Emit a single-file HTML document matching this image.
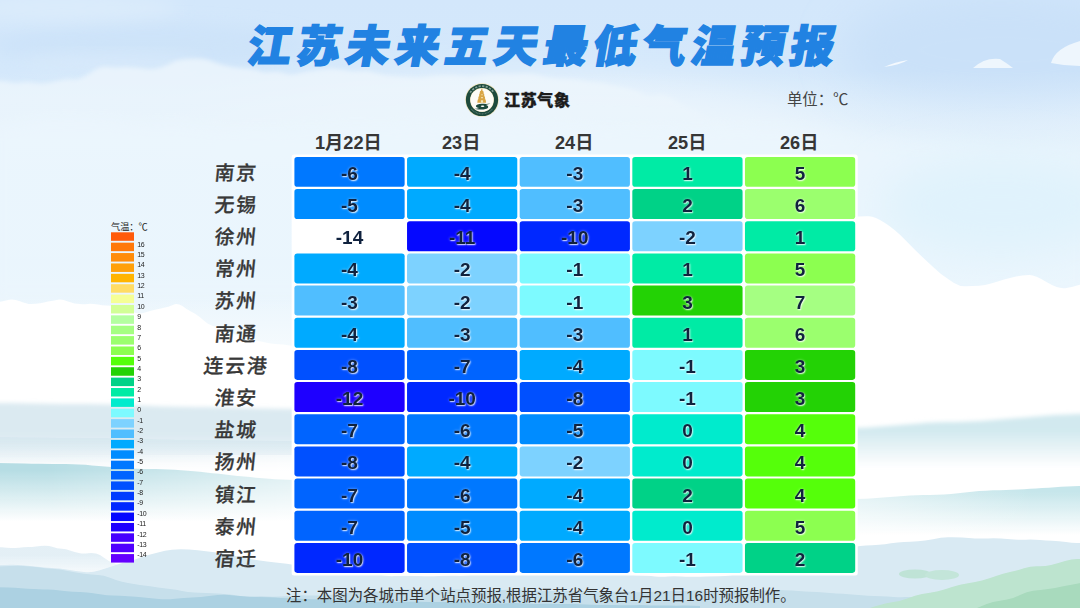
<!DOCTYPE html>
<html lang="zh-CN"><head><meta charset="utf-8"><title>江苏未来五天最低气温预报</title>
<style>
html,body{margin:0;padding:0}
body{width:1080px;height:608px;overflow:hidden;position:relative;background:#fff;font-family:"Liberation Sans",sans-serif}
#bg{position:absolute;left:0;top:0}
.t{position:absolute;overflow:visible}
.t text{font-family:"Liberation Sans","Noto Sans CJK SC",sans-serif}
#tbl{position:absolute;left:291px;top:154px;width:568px;height:423px}
.c{position:absolute;opacity:.999;width:110.24px;height:29.97px;text-align:center;font-weight:bold;font-size:19px;line-height:34.2px;color:#10223e;text-shadow:.8px .8px 1.4px rgba(255,255,255,.85),0 0 3px rgba(255,255,255,.45)}
#lg{position:absolute;left:111px;top:232px;width:60px;height:332px}
#lg b{opacity:.999;position:absolute;left:26.3px;font-weight:normal;font-size:7px;line-height:8.6px;color:#222;letter-spacing:-0.35px}
#logo{position:absolute;left:465px;top:83.2px}
</style></head><body>
<svg id="bg" width="1080" height="608" viewBox="0 0 1080 608">
<defs>
<linearGradient id="sky" x1="0" y1="0" x2="0" y2="1">
<stop offset="0" stop-color="#d3e7fb"/><stop offset="0.12" stop-color="#d4e8fb"/><stop offset="0.2" stop-color="#deedfb"/><stop offset="0.3" stop-color="#e6f3fc"/><stop offset="0.48" stop-color="#eaf5fc"/><stop offset="0.58" stop-color="#f6fbfe"/><stop offset="0.64" stop-color="#ffffff"/><stop offset="1" stop-color="#ffffff"/>
</linearGradient>
<filter id="b20" x="-50%" y="-50%" width="200%" height="200%"><feGaussianBlur stdDeviation="20"/></filter>
<filter id="b8" x="-50%" y="-50%" width="200%" height="200%"><feGaussianBlur stdDeviation="8"/></filter>
<filter id="b3"><feGaussianBlur stdDeviation="3"/></filter>
<filter id="b2"><feGaussianBlur stdDeviation="2"/></filter>
<filter id="b1"><feGaussianBlur stdDeviation="0.7"/></filter>
<linearGradient id="rfade" gradientUnits="userSpaceOnUse" x1="0" y1="70" x2="0" y2="310"><stop offset="0" stop-color="#e6f3fc" stop-opacity="0"/><stop offset="0.42" stop-color="#e6f3fc" stop-opacity="0.8"/><stop offset="0.8" stop-color="#e6f3fc" stop-opacity="0.8"/><stop offset="1" stop-color="#e6f3fc" stop-opacity="0"/></linearGradient>
<linearGradient id="wfade" x1="0" y1="0" x2="1" y2="0"><stop offset="0.15" stop-color="#fff" stop-opacity="0"/><stop offset="1" stop-color="#fff" stop-opacity="0.55"/></linearGradient>
<linearGradient id="wfade2" x1="0" y1="0" x2="1" y2="0"><stop offset="0" stop-color="#fff" stop-opacity="0.5"/><stop offset="0.8" stop-color="#fff" stop-opacity="0"/></linearGradient>
<linearGradient id="g0" gradientUnits="userSpaceOnUse" x1="0" y1="403" x2="0" y2="471"><stop offset="0" stop-color="#dbeaf1" stop-opacity="1"/><stop offset="0.45" stop-color="#dbeaf1" stop-opacity="1"/><stop offset="1" stop-color="#dbeaf1" stop-opacity="0"/></linearGradient><linearGradient id="g1" gradientUnits="userSpaceOnUse" x1="0" y1="437" x2="0" y2="463"><stop offset="0" stop-color="#d3e6ee" stop-opacity="0.6"/><stop offset="0.1" stop-color="#d3e6ee" stop-opacity="0.6"/><stop offset="1" stop-color="#d3e6ee" stop-opacity="0"/></linearGradient><linearGradient id="g2" gradientUnits="userSpaceOnUse" x1="0" y1="463" x2="0" y2="522"><stop offset="0" stop-color="#b6dde4" stop-opacity="1"/><stop offset="0.12" stop-color="#b6dde4" stop-opacity="1"/><stop offset="1" stop-color="#b6dde4" stop-opacity="0"/></linearGradient><linearGradient id="g3" gradientUnits="userSpaceOnUse" x1="0" y1="414" x2="0" y2="468"><stop offset="0" stop-color="#d2e9ef" stop-opacity="1"/><stop offset="0.3" stop-color="#d2e9ef" stop-opacity="1"/><stop offset="1" stop-color="#d2e9ef" stop-opacity="0"/></linearGradient><linearGradient id="g4" gradientUnits="userSpaceOnUse" x1="0" y1="486" x2="0" y2="535"><stop offset="0" stop-color="#c6e6eb" stop-opacity="1"/><stop offset="0.12" stop-color="#c6e6eb" stop-opacity="1"/><stop offset="1" stop-color="#c6e6eb" stop-opacity="0"/></linearGradient><linearGradient id="g5" gradientUnits="userSpaceOnUse" x1="0" y1="544" x2="0" y2="582"><stop offset="0" stop-color="#e1eef5" stop-opacity="0.9"/><stop offset="0.3" stop-color="#e1eef5" stop-opacity="0.9"/><stop offset="1" stop-color="#e1eef5" stop-opacity="0"/></linearGradient>
</defs>
<rect width="1080" height="608" fill="url(#sky)"/>
<ellipse cx="520" cy="150" rx="330" ry="70" fill="#eef6fd" fill-opacity="0.9" filter="url(#b20)"/>
<ellipse cx="1000" cy="50" rx="160" ry="60" fill="#c6def8" fill-opacity="0.7" filter="url(#b20)"/>
<ellipse cx="150" cy="45" rx="160" ry="22" fill="#c9e1f9" fill-opacity="0.6" filter="url(#b8)"/>
<ellipse cx="60" cy="8" rx="120" ry="14" fill="#e0effc" fill-opacity="0.6" filter="url(#b8)"/>
<ellipse cx="110" cy="62" rx="90" ry="8" fill="#deedfb" fill-opacity="0.6" filter="url(#b8)"/>
<path d="M-10,260L-10,81.1Q2,80.5 9,82.2Q15,83.8 21,82.7Q28,81.6 34,82.9Q40,84.2 47,83.3Q53,82.3 60,80.6Q67,78.8 73,79.4Q80,80.0 90,72.9Q100,65.7 106,66.8Q112,68.0 119,67.4Q125,66.8 131,67.3Q138,67.7 144,68.6Q150,69.6 156,68.6Q162,67.6 169,63.9Q175,60.1 182,59.4Q190,58.6 198,58.6Q205,58.6 214,61.9Q222,65.2 231,66.8Q240,68.4 246,68.4Q252,68.4 259,70.9Q265,73.4 271,72.1Q278,70.9 284,73.3Q290,75.8 296,74.1Q302,72.4 309,71.3Q315,70.2 321,69.4Q328,68.7 334,68.9Q340,69.0 347,70.6Q353,72.1 360,71.3Q367,70.4 373,72.4Q380,74.4 387,75.6Q393,76.7 400,76.8Q407,76.8 413,77.5Q420,78.2 426,77.0Q432,75.7 439,75.4Q445,75.2 451,75.3Q458,75.3 464,76.1Q470,76.9 476,75.9Q482,74.9 489,74.3Q495,73.7 501,74.1Q508,74.6 514,74.2Q520,73.8 527,73.7Q533,73.5 540,75.5Q547,77.5 553,78.2Q560,79.0 567,78.9Q573,78.7 580,80.3Q587,81.8 593,82.0Q600,82.1 606,83.7Q612,85.2 618,86.6Q624,88.0 630,89.0Q636,90.1 642,93.6Q648,97.1 654,95.6Q660,94.1 666,96.1Q672,98.1 678,102.2Q684,106.3 690,108.8Q696,111.3 702,115.4Q708,119.5 714,119.6Q720,119.7 727,126.6Q733,133.6 740,144.6Q747,155.6 753,160.5Q760,165.4 768,190.4Q775,215.4 782,238.7L790,262.0L790,260Z" fill="#eef6fd" fill-opacity="0.8" filter="url(#b2)"/>
<rect x="0" y="60" width="1080" height="260" fill="url(#rfade)"/>
<path d="M-10,300L-10,124.3Q4,124.9 11,123.6Q18,122.3 25,120.8Q32,119.4 39,118.1Q46,116.7 53,117.0Q60,117.4 66,117.7Q73,118.0 79,117.3Q86,116.6 92,117.4Q99,118.2 105,117.4Q111,116.7 118,118.4Q124,120.1 131,120.2Q137,120.4 144,121.2Q150,122.0 156,121.8Q163,121.7 169,121.2Q176,120.6 182,121.6Q189,122.7 195,124.1Q201,125.6 208,125.1Q214,124.6 221,126.0Q227,127.5 234,127.1Q240,126.7 246,126.5Q252,126.4 258,126.1Q265,125.8 271,126.9Q277,128.1 283,126.4Q289,124.8 295,124.6Q302,124.4 308,124.2Q314,124.0 320,124.5Q326,125.0 332,123.0Q338,120.9 345,121.2Q351,121.5 357,121.4Q363,121.2 369,121.6Q375,122.0 382,121.7Q388,121.4 394,121.4Q400,121.5 406,120.3Q412,119.1 418,119.4Q424,119.7 430,119.7Q436,119.6 442,120.7Q448,121.8 454,122.1Q460,122.3 466,120.8Q472,119.3 478,119.4Q484,119.6 490,119.8Q496,120.1 502,120.2Q508,120.4 514,121.0Q520,121.7 526,122.0Q532,122.4 538,121.9Q544,121.4 550,121.0Q556,120.7 562,121.7Q568,122.6 574,122.7Q580,122.7 586,123.3Q592,123.8 598,124.7Q604,125.7 610,125.3Q616,124.9 622,124.6Q628,124.4 634,124.7Q640,125.0 646,125.2Q652,125.4 658,124.2Q664,123.0 670,124.8Q676,126.5 682,126.3Q688,126.1 694,126.3Q700,126.5 706,126.4Q712,126.3 718,125.5Q724,124.8 730,125.0Q737,125.1 743,124.7Q749,124.4 755,125.7Q761,127.0 767,126.2Q773,125.4 779,125.7Q785,126.1 791,126.8Q798,127.5 804,127.9Q810,128.2 816,129.1Q822,129.9 828,129.9Q834,129.8 840,130.3Q846,130.7 852,131.6Q858,132.5 865,133.0Q871,133.5 877,134.6Q883,135.7 889,135.7Q895,135.6 901,137.9Q907,140.2 913,140.3Q919,140.4 925,140.1Q932,139.7 938,140.5Q944,141.3 950,142.0Q956,142.8 962,143.3Q968,143.9 974,143.9Q980,143.9 986,145.8Q992,147.7 999,148.4Q1005,149.1 1011,148.4Q1017,147.8 1023,148.1Q1029,148.5 1035,147.9Q1041,147.4 1047,147.6Q1053,147.9 1060,148.5Q1066,149.1 1072,149.1Q1078,149.0 1084,149.5L1090,150.0L1090,300Z" fill="#ecf6fd" fill-opacity="0.6" filter="url(#b8)"/>
<path d="M973,68 Q985,57 1000,59 Q1008,64 1013,68Z" fill="#eef6fd"/>
<path d="M884,67 Q895,62 908,60 Q900,65 884,67Z" fill="#f4f9fe"/>
<path d="M1051,63 Q1055,48 1080,41 L1080,66 Q1065,66 1051,63Z" fill="#eef6fd"/>
<ellipse cx="1000" cy="205" rx="120" ry="50" fill="#dff2fc" fill-opacity="0.9" filter="url(#b20)"/>
<path d="M850,420L850,217.0Q862,216.0 869,216.3Q875,216.6 885,223.0Q895,229.4 905,239.7Q915,250.1 925,259.5Q935,268.9 941,274.0Q948,279.1 954,282.9Q960,286.6 966,286.3Q972,286.1 979,285.8Q985,285.4 991,283.5Q998,281.6 1004,279.6Q1010,277.6 1016,276.4Q1022,275.3 1029,274.9Q1035,274.6 1046,281.8Q1058,289.0 1065,288.2Q1072,287.3 1078,285.2L1085,283.0L1085,420Z" fill="#ffffff" fill-opacity="1" filter="url(#b1)"/>
<path d="M-10,420L-10,303.1Q2,301.8 7,300.2Q13,298.5 20,301.3Q27,304.2 31,304.1Q36,303.9 40,303.2Q44,302.5 48,301.5Q53,300.6 58,299.7Q62,298.9 68,301.4Q75,304.0 80,304.1Q84,304.2 88,303.9Q93,303.7 98,304.6Q102,305.6 106,305.6Q111,305.6 116,306.2Q121,306.8 126,309.1Q130,311.3 135,312.8Q140,314.3 145,312.6Q150,310.8 155,309.7Q160,308.6 164,307.7Q168,306.9 173,304.9Q177,302.8 182,305.8Q186,308.8 190,311.1Q195,313.5 200,317.2Q204,320.9 208,323.7Q213,326.6 218,327.3Q222,328.1 227,330.4Q232,332.7 236,334.9Q241,337.2 245,338.1Q250,339.1 254,339.9Q258,340.8 262,341.7Q267,342.7 271,343.4Q275,344.0 279,344.2Q283,344.4 288,345.2Q292,346.1 296,346.0L300,346.0L300,420Z" fill="#ffffff" fill-opacity="1" filter="url(#b1)"/>
<path d="M-10,471L-10,403.0Q3,403.0 9,403.1Q16,403.2 22,403.3Q29,403.4 35,403.5Q41,403.6 48,403.7Q54,403.8 61,403.9Q67,404.0 74,404.0Q80,404.0 86,404.0Q92,404.1 98,404.2Q104,404.3 110,404.5Q116,404.6 122,404.8Q128,405.0 134,405.3Q140,405.5 146,405.7Q152,406.0 158,406.2Q164,406.4 170,406.5Q176,406.7 182,406.8Q188,406.9 194,407.0Q200,407.0 206,407.0Q212,407.1 219,407.2Q225,407.3 231,407.5Q238,407.6 244,407.8Q250,408.0 256,408.2Q262,408.4 269,408.5Q275,408.7 281,408.8Q288,408.9 294,409.0L300,409.0L300,471Z" fill="url(#g0)" filter="url(#b2)"/>
<path d="M-10,463L-10,437.0Q2,437.0 8,437.1Q14,437.1 21,437.2Q27,437.2 33,437.3Q39,437.4 45,437.5Q51,437.6 57,437.7Q63,437.8 69,437.8Q76,437.9 82,437.9Q88,438.0 94,438.0Q100,438.0 106,438.0Q112,438.1 119,438.2Q125,438.3 131,438.5Q138,438.6 144,438.8Q150,439.0 156,439.2Q162,439.4 169,439.5Q175,439.7 181,439.8Q188,439.9 194,440.0Q200,440.0 206,440.0Q212,440.0 219,440.1Q225,440.1 231,440.2Q238,440.3 244,440.4Q250,440.5 256,440.6Q262,440.7 269,440.8Q275,440.9 281,440.9Q288,441.0 294,441.0L300,441.0L300,463Z" fill="url(#g1)" filter="url(#b1)"/>
<path d="M-10,522L-10,463.0Q4,463.1 11,463.2Q18,463.3 25,463.5Q32,463.7 39,463.8Q46,463.9 53,464.0Q60,464.0 66,464.1Q73,464.2 79,464.6Q86,464.9 92,465.4Q99,465.9 105,466.5Q111,467.1 118,467.6Q124,468.1 131,468.4Q137,468.8 144,468.9Q150,469.0 156,469.1Q162,469.2 169,469.5Q175,469.7 181,470.2Q188,470.6 194,471.2Q200,471.8 206,472.4Q212,473.1 219,473.8Q225,474.5 231,475.2Q238,475.9 244,476.6Q250,477.2 256,477.8Q262,478.4 269,478.8Q275,479.3 281,479.5Q288,479.8 294,479.9L300,480.0L300,522Z" fill="url(#g2)" filter="url(#b1)"/>
<rect x="0" y="455" width="300" height="75" fill="url(#wfade)"/>
<path d="M850,468L850,428.0Q862,427.8 869,427.4Q875,427.1 881,426.6Q888,426.1 894,425.6Q900,425.0 906,424.4Q912,423.9 919,423.4Q925,422.9 931,422.6Q938,422.2 944,422.1Q950,422.0 956,421.9Q962,421.8 968,421.6Q975,421.4 981,421.0Q987,420.6 993,420.1Q999,419.7 1005,419.1Q1011,418.6 1018,418.0Q1024,417.4 1030,416.9Q1036,416.3 1042,415.9Q1048,415.4 1054,415.0Q1060,414.6 1067,414.4Q1073,414.2 1079,414.1L1085,414.0L1085,468Z" fill="url(#g3)" filter="url(#b2)"/>
<path d="M850,535L850,499.0Q863,498.7 870,498.4Q877,498.0 883,497.5Q890,497.0 897,496.5Q903,496.0 910,495.6Q917,495.3 923,495.1Q930,495.0 937,494.8Q944,494.5 951,493.9Q958,493.3 965,492.5Q972,491.7 979,491.1Q986,490.5 993,490.2Q1000,490.0 1006,489.9Q1012,489.8 1018,489.5Q1024,489.2 1030,488.8Q1036,488.4 1042,488.0Q1049,487.6 1055,487.2Q1061,486.8 1067,486.5Q1073,486.2 1079,486.1L1085,486.0L1085,535Z" fill="url(#g4)" filter="url(#b1)"/>
<rect x="850" y="480" width="230" height="60" fill="url(#wfade2)"/>
<path d="M-10,582L-10,548.9Q-2,546.6 2,547.3Q7,548.0 11,548.1Q15,548.2 19,547.8Q23,547.3 28,547.1Q32,546.9 36,546.4Q40,545.9 44,545.7Q49,545.5 53,547.1Q57,548.6 62,548.8Q66,549.0 70,550.6Q75,552.2 79,553.0Q83,553.9 88,553.3Q92,552.7 96,553.6Q100,554.6 104,557.7Q108,560.8 113,562.8Q117,564.8 121,565.4L125,566.0L125,582Z" fill="url(#g5)" filter="url(#b1)"/>
<path d="M-10,620L-10,565.3Q3,565.0 10,564.8Q17,564.6 23,565.2Q30,565.8 38,566.7Q45,567.6 52,568.0Q60,568.3 68,569.7Q76,571.2 84,572.1Q92,573.0 99,570.6Q106,568.3 113,566.0Q120,563.7 128,561.6Q135,559.6 142,556.9Q150,554.3 158,552.4Q165,550.5 172,549.7Q180,548.9 189,549.6Q198,550.3 206,551.2Q215,552.1 222,553.5Q230,554.9 238,556.4Q245,557.9 252,559.3Q260,560.7 267,561.4Q273,562.2 280,563.0Q287,563.9 293,564.7Q300,565.5 306,565.7Q312,566.0 319,566.5Q325,566.9 331,568.1Q338,569.3 344,569.9Q350,570.5 356,571.6Q362,572.8 369,573.3Q375,573.8 381,575.1Q388,576.4 394,576.1Q400,575.7 406,575.8Q412,575.9 418,575.9Q425,576.0 431,576.2Q437,576.4 443,575.8Q449,575.2 455,575.5Q462,575.9 468,575.3Q474,574.7 480,574.5Q486,574.4 492,574.2Q498,574.0 505,573.4Q511,572.7 517,573.0Q523,573.3 529,572.9Q535,572.5 542,572.3Q548,572.1 554,572.8Q560,573.6 566,573.0Q573,572.4 579,572.8Q585,573.3 592,573.7Q598,574.1 605,574.2Q611,574.3 617,574.3Q624,574.4 630,574.8Q636,575.3 643,575.6Q649,575.9 655,576.4Q662,576.9 668,576.4Q675,575.9 681,576.5Q687,577.0 694,576.8Q700,576.5 706,576.4Q712,576.2 719,576.2Q725,576.2 731,575.2Q738,574.2 744,573.4Q750,572.6 756,572.0Q762,571.3 769,570.7Q775,570.1 781,569.2Q788,568.2 794,568.2Q800,568.2 806,567.1Q812,565.9 818,563.2Q824,560.4 830,557.2Q836,554.0 842,551.0Q848,548.0 854,547.0Q860,546.1 866,545.6Q872,545.2 879,544.8Q885,544.4 891,543.3Q898,542.1 904,541.9Q910,541.8 918,541.3Q925,540.9 933,539.2Q941,537.5 948,537.3Q956,537.1 962,537.6Q969,538.2 975,538.4Q982,538.7 988,538.5Q994,538.2 1001,538.6Q1007,539.0 1014,539.4Q1020,539.9 1026,539.7Q1033,539.4 1040,540.0Q1046,540.5 1052,540.8Q1059,541.1 1066,542.1Q1072,543.1 1078,543.0L1085,543.0L1085,620Z" fill="#d9eaf3" fill-opacity="1" filter="url(#b1)"/>
<path d="M-10,620L-10,566.5Q3,566.6 10,566.0Q17,565.4 23,565.9Q30,566.3 38,567.3Q45,568.3 52,568.8Q60,569.4 68,571.0Q76,572.6 84,573.7Q92,574.7 98,575.0Q104,575.2 110,577.7Q116,580.2 122,581.7Q128,583.2 134,584.1Q140,585.0 146,585.8Q152,586.5 158,587.4Q164,588.3 170,589.0Q176,589.7 182,590.9Q188,592.1 194,592.6Q200,593.0 206,593.1Q212,593.1 218,593.5Q224,593.9 230,594.6Q236,595.3 242,596.2Q248,597.0 254,596.6Q260,596.2 267,596.5Q273,596.8 280,596.5Q287,596.2 293,595.7Q300,595.2 306,595.4Q312,595.5 319,595.4Q325,595.3 331,594.7Q338,594.2 344,593.2Q350,592.3 356,592.5Q362,592.6 369,592.0Q375,591.3 381,591.2Q388,591.0 394,590.2Q400,589.4 406,589.5Q412,589.6 418,589.4Q424,589.3 430,589.9Q436,590.4 442,590.0Q448,589.6 454,589.5Q460,589.4 466,589.6Q472,589.9 478,590.3Q484,590.7 490,590.6Q496,590.5 502,590.1Q508,589.6 514,589.5Q520,589.4 527,590.1Q533,590.8 540,590.7Q547,590.6 553,591.0Q560,591.3 567,591.1Q573,590.8 580,591.0Q587,591.2 593,591.7Q600,592.3 606,592.1Q612,591.9 618,591.5Q625,591.2 631,591.8Q637,592.4 643,592.1Q649,591.8 655,591.8Q662,591.8 668,591.1Q674,590.5 680,591.0Q686,591.4 692,590.7Q698,590.0 705,590.5Q711,591.0 717,590.6Q723,590.2 729,590.0Q735,589.9 742,590.0Q748,590.1 754,590.4Q760,590.7 766,590.2Q773,589.8 779,589.9Q785,590.0 792,590.6Q798,591.3 805,591.4Q811,591.6 817,592.0Q824,592.4 830,592.9Q836,593.5 843,593.8Q849,594.2 855,594.8Q862,595.3 868,595.7Q875,596.1 881,596.3Q887,596.5 894,597.0Q900,597.4 906,597.1Q912,596.8 919,597.2Q925,597.6 931,597.7Q938,597.7 944,598.2Q950,598.8 956,598.9Q962,599.0 969,599.5Q975,600.0 981,600.0Q988,600.1 994,600.5L1000,601.0L1000,620Z" fill="#c6dfeb" fill-opacity="1" filter="url(#b1)"/>
<path d="M-10,620L-10,587.3Q2,587.4 9,587.5Q15,587.6 21,588.2Q28,588.7 34,589.1Q40,589.5 47,589.4Q53,589.3 60,590.5Q67,591.6 73,591.8Q80,591.9 87,592.5Q93,593.0 100,594.2Q107,595.4 113,595.6Q120,595.9 128,596.3Q136,596.8 144,597.6Q151,598.5 159,599.0Q167,599.6 175,598.7Q184,597.8 192,597.6Q200,597.4 211,595.8Q222,594.2 229,595.0Q236,595.7 243,596.3Q250,596.9 256,597.0Q262,597.1 269,597.3Q275,597.5 281,597.9Q288,598.3 294,598.4Q300,598.5 306,598.9Q312,599.4 319,599.3Q325,599.1 331,599.3Q338,599.5 344,599.8Q350,600.0 356,600.7Q362,601.5 369,601.7Q375,602.0 381,602.0Q388,602.1 394,601.9Q400,601.7 406,601.7Q412,601.7 418,601.8Q424,601.8 430,602.0Q436,602.1 442,602.0Q448,601.8 454,602.1Q460,602.3 466,602.3Q472,602.3 478,602.8Q484,603.3 490,603.4Q496,603.5 502,603.4Q508,603.2 514,603.1Q520,603.1 526,603.6Q532,604.2 538,603.9Q544,603.6 550,603.8Q556,604.0 562,603.9Q568,603.8 574,604.1Q580,604.5 586,604.6Q592,604.8 598,604.9Q604,605.1 610,605.0Q616,604.9 622,605.2Q628,605.5 634,605.2Q640,605.0 646,605.2Q652,605.5 658,605.4Q664,605.4 670,605.6Q676,605.8 682,605.6Q688,605.4 694,605.7L700,606.0L700,620Z" fill="#acd1e2" fill-opacity="1" filter="url(#b1)"/>
<path d="M860,620L860,610.6Q872,607.4 879,605.3Q885,603.2 892,602.2Q900,601.3 908,598.2Q915,595.1 922,593.9Q930,592.8 938,591.2Q945,589.7 952,587.1Q960,584.4 968,583.3Q975,582.1 982,580.4Q989,578.6 996,576.0Q1003,573.5 1010,572.0Q1017,570.5 1024,568.2Q1031,565.9 1038,566.2Q1044,566.5 1051,565.0Q1058,563.4 1065,561.1Q1072,558.8 1078,558.9L1085,559.0L1085,620Z" fill="#bde4cf" fill-opacity="1" filter="url(#b1)"/>
<path d="M960,620L960,613.0Q973,610.2 980,606.8Q987,603.4 993,602.0Q1000,600.7 1007,599.6Q1013,598.4 1020,594.9Q1027,591.4 1033,590.7Q1040,590.1 1048,589.0Q1055,588.0 1062,586.5Q1070,585.0 1078,583.5L1085,582.0L1085,620Z" fill="#a8dabd" fill-opacity="1" filter="url(#b1)"/>
<ellipse cx="915" cy="574" rx="16" ry="4.5" fill="#bfe3d6"/><ellipse cx="942" cy="575" rx="17" ry="5" fill="#c3e5d9"/>
</svg>
<svg class="t" id="title" role="img" aria-label="江苏未来五天最低气温预报" style="left:0;top:0" width="1080" height="90" viewBox="0 0 1080 90"><title>江苏未来五天最低气温预报</title><g transform="translate(0,67.0) skewX(-10) translate(0,-67.0)" fill="#2182E2" stroke="#2182E2" stroke-linejoin="miter" stroke-miterlimit="2"><text x="244.5" y="62.5" font-size="44" font-weight="900" stroke-width="1.5" textLength="587" lengthAdjust="spacing">江苏未来五天最低气温预报</text></g></svg>
<svg id="logo" role="img" aria-label="江苏气象 logo" width="34" height="34" viewBox="0 0 34 34">
<circle cx="17" cy="17" r="16.8" fill="#efe2b9"/>
<circle cx="17" cy="17" r="16.1" fill="#1d4a3c"/>
<path d="M5.21,9.63A13.9,13.9 0 0 1 28.79,9.63" fill="none" stroke="#e6efe8" stroke-opacity=".5" stroke-width="1.7" stroke-dasharray="2.2 1.3"/><path d="M6.35,25.93A13.9,13.9 0 0 0 27.65,25.93" fill="none" stroke="#e6efe8" stroke-opacity=".3" stroke-width="1.1" stroke-dasharray="0.9 0.6"/>
<circle cx="17" cy="17" r="11.9" fill="#efe2b9"/>
<circle cx="17" cy="17" r="11.5" fill="#fdfcf6"/>
<path d="M16.7,5.6h.6l.2,2.2.9.5.3,1.6h-.5l.9.9.3,1.9h-.5l1,1 .3,2.1h-.5l1,1 .4,3h-8.800l.4-3 1-1h-.5l.3-2.100 1-1h-.5l.3-1.900.9-.9h-.5l.3-1.600.9-.5z" fill="#d9a543"/>
<path d="M15.900,17.200h2.200v2.600h-2.200z M16.200,13.900h1.600v1.400h-1.600z M16.400,11.200h1.200v1.100h-1.200z" fill="#f6e6b8"/>
<path d="M25.400,20.300c-2.500.9-5.500.5-8.600.5-3.400,0-5.900,1-5.900,2.300 0,.9 1.300,1.600 3.300,2-2,.6-3.900.7-5.400.3 2.300,1.200 5.300,1 8.300,1 3.500,0 6.100-1 6.100-2.500 0-.8-.9-1.500-2.300-1.900 1.800-.4 3.400-1 4.500-1.700z M15.800,23.300c0-.45.8-.8 1.800-.8s1.800.35 1.800.8-.8.8-1.800.8-1.800-.35-1.800-.8z" fill="#1d4a3c" fill-rule="evenodd"/>
</svg>

<svg class="t" role="img" aria-label="江苏气象" style="left:498.20px;top:84.00px" width="78.5" height="32.3" viewBox="0 0 78.5 32.3" id="logotxt"><title>江苏气象</title><text x="6" y="21.6" font-size="16" font-weight="900" letter-spacing="0.7" fill="#1c1c1c" stroke="#1c1c1c" stroke-width="0.35">江苏气象</text></svg>
<svg class="t" role="img" aria-label="单位：℃" style="left:780.60px;top:84.10px" width="73.7" height="32.0" viewBox="0 0 73.7 32.0" ><title>单位：℃</title><text x="6" y="21.4" font-size="15.4" fill="#444">单位：℃</text></svg>
<div id="hdr"><svg class="t" role="img" aria-label="1月22日" style="left:309.21px;top:125.40px" width="80.6" height="35.7" viewBox="0 0 80.6 35.7" ><title>1月22日</title><text x="6" y="24.2" font-size="18.2" font-weight="bold" fill="#363636">1月22日</text></svg><svg class="t" role="img" aria-label="23日" style="left:436.32px;top:125.40px" width="51.7" height="35.7" viewBox="0 0 51.7 35.7" ><title>23日</title><text x="6" y="24.2" font-size="18.2" font-weight="bold" fill="#363636">23日</text></svg><svg class="t" role="img" aria-label="24日" style="left:548.96px;top:125.40px" width="51.7" height="35.7" viewBox="0 0 51.7 35.7" ><title>24日</title><text x="6" y="24.2" font-size="18.2" font-weight="bold" fill="#363636">24日</text></svg><svg class="t" role="img" aria-label="25日" style="left:661.60px;top:125.40px" width="51.7" height="35.7" viewBox="0 0 51.7 35.7" ><title>25日</title><text x="6" y="24.2" font-size="18.2" font-weight="bold" fill="#363636">25日</text></svg><svg class="t" role="img" aria-label="26日" style="left:774.24px;top:125.40px" width="51.7" height="35.7" viewBox="0 0 51.7 35.7" ><title>26日</title><text x="6" y="24.2" font-size="18.2" font-weight="bold" fill="#363636">26日</text></svg></div>
<div id="rows"><svg class="t" role="img" aria-label="南京" style="left:207.90px;top:153.80px" width="53.4" height="37.7" viewBox="0 0 53.4 37.7" ><title>南京</title><text transform="translate(6.00,25.80) skewX(-6)" font-size="19.8" font-weight="500" letter-spacing="1.8" fill="#383838" stroke="#383838" stroke-width="0.28">南京</text></svg><svg class="t" role="img" aria-label="无锡" style="left:207.90px;top:185.97px" width="53.4" height="37.7" viewBox="0 0 53.4 37.7" ><title>无锡</title><text transform="translate(6.00,25.80) skewX(-6)" font-size="19.8" font-weight="500" letter-spacing="1.8" fill="#383838" stroke="#383838" stroke-width="0.28">无锡</text></svg><svg class="t" role="img" aria-label="徐州" style="left:207.90px;top:218.14px" width="53.4" height="37.7" viewBox="0 0 53.4 37.7" ><title>徐州</title><text transform="translate(6.00,25.80) skewX(-6)" font-size="19.8" font-weight="500" letter-spacing="1.8" fill="#383838" stroke="#383838" stroke-width="0.28">徐州</text></svg><svg class="t" role="img" aria-label="常州" style="left:207.90px;top:250.31px" width="53.4" height="37.7" viewBox="0 0 53.4 37.7" ><title>常州</title><text transform="translate(6.00,25.80) skewX(-6)" font-size="19.8" font-weight="500" letter-spacing="1.8" fill="#383838" stroke="#383838" stroke-width="0.28">常州</text></svg><svg class="t" role="img" aria-label="苏州" style="left:207.90px;top:282.48px" width="53.4" height="37.7" viewBox="0 0 53.4 37.7" ><title>苏州</title><text transform="translate(6.00,25.80) skewX(-6)" font-size="19.8" font-weight="500" letter-spacing="1.8" fill="#383838" stroke="#383838" stroke-width="0.28">苏州</text></svg><svg class="t" role="img" aria-label="南通" style="left:207.90px;top:314.65px" width="53.4" height="37.7" viewBox="0 0 53.4 37.7" ><title>南通</title><text transform="translate(6.00,25.80) skewX(-6)" font-size="19.8" font-weight="500" letter-spacing="1.8" fill="#383838" stroke="#383838" stroke-width="0.28">南通</text></svg><svg class="t" role="img" aria-label="连云港" style="left:197.10px;top:346.82px" width="75.0" height="37.7" viewBox="0 0 75.0 37.7" ><title>连云港</title><text transform="translate(6.00,25.80) skewX(-6)" font-size="19.8" font-weight="500" letter-spacing="1.8" fill="#383838" stroke="#383838" stroke-width="0.28">连云港</text></svg><svg class="t" role="img" aria-label="淮安" style="left:207.90px;top:378.99px" width="53.4" height="37.7" viewBox="0 0 53.4 37.7" ><title>淮安</title><text transform="translate(6.00,25.80) skewX(-6)" font-size="19.8" font-weight="500" letter-spacing="1.8" fill="#383838" stroke="#383838" stroke-width="0.28">淮安</text></svg><svg class="t" role="img" aria-label="盐城" style="left:207.90px;top:411.16px" width="53.4" height="37.7" viewBox="0 0 53.4 37.7" ><title>盐城</title><text transform="translate(6.00,25.80) skewX(-6)" font-size="19.8" font-weight="500" letter-spacing="1.8" fill="#383838" stroke="#383838" stroke-width="0.28">盐城</text></svg><svg class="t" role="img" aria-label="扬州" style="left:207.90px;top:443.33px" width="53.4" height="37.7" viewBox="0 0 53.4 37.7" ><title>扬州</title><text transform="translate(6.00,25.80) skewX(-6)" font-size="19.8" font-weight="500" letter-spacing="1.8" fill="#383838" stroke="#383838" stroke-width="0.28">扬州</text></svg><svg class="t" role="img" aria-label="镇江" style="left:207.90px;top:475.50px" width="53.4" height="37.7" viewBox="0 0 53.4 37.7" ><title>镇江</title><text transform="translate(6.00,25.80) skewX(-6)" font-size="19.8" font-weight="500" letter-spacing="1.8" fill="#383838" stroke="#383838" stroke-width="0.28">镇江</text></svg><svg class="t" role="img" aria-label="泰州" style="left:207.90px;top:507.67px" width="53.4" height="37.7" viewBox="0 0 53.4 37.7" ><title>泰州</title><text transform="translate(6.00,25.80) skewX(-6)" font-size="19.8" font-weight="500" letter-spacing="1.8" fill="#383838" stroke="#383838" stroke-width="0.28">泰州</text></svg><svg class="t" role="img" aria-label="宿迁" style="left:207.90px;top:539.84px" width="53.4" height="37.7" viewBox="0 0 53.4 37.7" ><title>宿迁</title><text transform="translate(6.00,25.80) skewX(-6)" font-size="19.8" font-weight="500" letter-spacing="1.8" fill="#383838" stroke="#383838" stroke-width="0.28">宿迁</text></svg></div>
<div id="tbl"><svg width="568" height="423" viewBox="0 0 568 423" style="position:absolute;left:0;top:0"><rect x="0.65" y="0.40" width="566.09" height="421.05" rx="2.5" fill="#fff"/><rect x="3.40" y="2.90" width="110.24" height="29.97" rx="2.8" fill="#0078FF"/><rect x="116.04" y="2.90" width="110.24" height="29.97" rx="2.8" fill="#00AAFF"/><rect x="228.68" y="2.90" width="110.24" height="29.97" rx="2.8" fill="#50BEFF"/><rect x="341.32" y="2.90" width="110.24" height="29.97" rx="2.8" fill="#00EBA5"/><rect x="453.96" y="2.90" width="110.24" height="29.97" rx="2.8" fill="#8CFF50"/><rect x="3.40" y="35.07" width="110.24" height="29.97" rx="2.8" fill="#008CFF"/><rect x="116.04" y="35.07" width="110.24" height="29.97" rx="2.8" fill="#00AAFF"/><rect x="228.68" y="35.07" width="110.24" height="29.97" rx="2.8" fill="#50BEFF"/><rect x="341.32" y="35.07" width="110.24" height="29.97" rx="2.8" fill="#00D287"/><rect x="453.96" y="35.07" width="110.24" height="29.97" rx="2.8" fill="#9BFF6E"/><rect x="3.40" y="67.24" width="110.24" height="29.97" rx="2.8" fill="#FFFFFF"/><rect x="116.04" y="67.24" width="110.24" height="29.97" rx="2.8" fill="#0508FF"/><rect x="228.68" y="67.24" width="110.24" height="29.97" rx="2.8" fill="#0028FF"/><rect x="341.32" y="67.24" width="110.24" height="29.97" rx="2.8" fill="#7DD2FF"/><rect x="453.96" y="67.24" width="110.24" height="29.97" rx="2.8" fill="#00EBA5"/><rect x="3.40" y="99.41" width="110.24" height="29.97" rx="2.8" fill="#00AAFF"/><rect x="116.04" y="99.41" width="110.24" height="29.97" rx="2.8" fill="#7DD2FF"/><rect x="228.68" y="99.41" width="110.24" height="29.97" rx="2.8" fill="#7DFAFF"/><rect x="341.32" y="99.41" width="110.24" height="29.97" rx="2.8" fill="#00EBA5"/><rect x="453.96" y="99.41" width="110.24" height="29.97" rx="2.8" fill="#8CFF50"/><rect x="3.40" y="131.58" width="110.24" height="29.97" rx="2.8" fill="#50BEFF"/><rect x="116.04" y="131.58" width="110.24" height="29.97" rx="2.8" fill="#7DD2FF"/><rect x="228.68" y="131.58" width="110.24" height="29.97" rx="2.8" fill="#7DFAFF"/><rect x="341.32" y="131.58" width="110.24" height="29.97" rx="2.8" fill="#23D205"/><rect x="453.96" y="131.58" width="110.24" height="29.97" rx="2.8" fill="#A5FF82"/><rect x="3.40" y="163.75" width="110.24" height="29.97" rx="2.8" fill="#00AAFF"/><rect x="116.04" y="163.75" width="110.24" height="29.97" rx="2.8" fill="#50BEFF"/><rect x="228.68" y="163.75" width="110.24" height="29.97" rx="2.8" fill="#50BEFF"/><rect x="341.32" y="163.75" width="110.24" height="29.97" rx="2.8" fill="#00EBA5"/><rect x="453.96" y="163.75" width="110.24" height="29.97" rx="2.8" fill="#9BFF6E"/><rect x="3.40" y="195.92" width="110.24" height="29.97" rx="2.8" fill="#0050FF"/><rect x="116.04" y="195.92" width="110.24" height="29.97" rx="2.8" fill="#0064FF"/><rect x="228.68" y="195.92" width="110.24" height="29.97" rx="2.8" fill="#00AAFF"/><rect x="341.32" y="195.92" width="110.24" height="29.97" rx="2.8" fill="#7DFAFF"/><rect x="453.96" y="195.92" width="110.24" height="29.97" rx="2.8" fill="#23D205"/><rect x="3.40" y="228.09" width="110.24" height="29.97" rx="2.8" fill="#1E00FF"/><rect x="116.04" y="228.09" width="110.24" height="29.97" rx="2.8" fill="#0028FF"/><rect x="228.68" y="228.09" width="110.24" height="29.97" rx="2.8" fill="#0050FF"/><rect x="341.32" y="228.09" width="110.24" height="29.97" rx="2.8" fill="#7DFAFF"/><rect x="453.96" y="228.09" width="110.24" height="29.97" rx="2.8" fill="#23D205"/><rect x="3.40" y="260.26" width="110.24" height="29.97" rx="2.8" fill="#0064FF"/><rect x="116.04" y="260.26" width="110.24" height="29.97" rx="2.8" fill="#0078FF"/><rect x="228.68" y="260.26" width="110.24" height="29.97" rx="2.8" fill="#008CFF"/><rect x="341.32" y="260.26" width="110.24" height="29.97" rx="2.8" fill="#00EBCD"/><rect x="453.96" y="260.26" width="110.24" height="29.97" rx="2.8" fill="#55FF0A"/><rect x="3.40" y="292.43" width="110.24" height="29.97" rx="2.8" fill="#0050FF"/><rect x="116.04" y="292.43" width="110.24" height="29.97" rx="2.8" fill="#00AAFF"/><rect x="228.68" y="292.43" width="110.24" height="29.97" rx="2.8" fill="#7DD2FF"/><rect x="341.32" y="292.43" width="110.24" height="29.97" rx="2.8" fill="#00EBCD"/><rect x="453.96" y="292.43" width="110.24" height="29.97" rx="2.8" fill="#55FF0A"/><rect x="3.40" y="324.60" width="110.24" height="29.97" rx="2.8" fill="#0064FF"/><rect x="116.04" y="324.60" width="110.24" height="29.97" rx="2.8" fill="#0078FF"/><rect x="228.68" y="324.60" width="110.24" height="29.97" rx="2.8" fill="#00AAFF"/><rect x="341.32" y="324.60" width="110.24" height="29.97" rx="2.8" fill="#00D287"/><rect x="453.96" y="324.60" width="110.24" height="29.97" rx="2.8" fill="#55FF0A"/><rect x="3.40" y="356.77" width="110.24" height="29.97" rx="2.8" fill="#0064FF"/><rect x="116.04" y="356.77" width="110.24" height="29.97" rx="2.8" fill="#008CFF"/><rect x="228.68" y="356.77" width="110.24" height="29.97" rx="2.8" fill="#00AAFF"/><rect x="341.32" y="356.77" width="110.24" height="29.97" rx="2.8" fill="#00EBCD"/><rect x="453.96" y="356.77" width="110.24" height="29.97" rx="2.8" fill="#8CFF50"/><rect x="3.40" y="388.94" width="110.24" height="29.97" rx="2.8" fill="#0028FF"/><rect x="116.04" y="388.94" width="110.24" height="29.97" rx="2.8" fill="#0050FF"/><rect x="228.68" y="388.94" width="110.24" height="29.97" rx="2.8" fill="#0078FF"/><rect x="341.32" y="388.94" width="110.24" height="29.97" rx="2.8" fill="#7DFAFF"/><rect x="453.96" y="388.94" width="110.24" height="29.97" rx="2.8" fill="#00D287"/></svg><div class="c" style="left:3.40px;top:2.90px">-6</div><div class="c" style="left:116.04px;top:2.90px">-4</div><div class="c" style="left:228.68px;top:2.90px">-3</div><div class="c" style="left:341.32px;top:2.90px">1</div><div class="c" style="left:453.96px;top:2.90px">5</div><div class="c" style="left:3.40px;top:35.07px">-5</div><div class="c" style="left:116.04px;top:35.07px">-4</div><div class="c" style="left:228.68px;top:35.07px">-3</div><div class="c" style="left:341.32px;top:35.07px">2</div><div class="c" style="left:453.96px;top:35.07px">6</div><div class="c" style="left:3.40px;top:67.24px">-14</div><div class="c" style="left:116.04px;top:67.24px">-11</div><div class="c" style="left:228.68px;top:67.24px">-10</div><div class="c" style="left:341.32px;top:67.24px">-2</div><div class="c" style="left:453.96px;top:67.24px">1</div><div class="c" style="left:3.40px;top:99.41px">-4</div><div class="c" style="left:116.04px;top:99.41px">-2</div><div class="c" style="left:228.68px;top:99.41px">-1</div><div class="c" style="left:341.32px;top:99.41px">1</div><div class="c" style="left:453.96px;top:99.41px">5</div><div class="c" style="left:3.40px;top:131.58px">-3</div><div class="c" style="left:116.04px;top:131.58px">-2</div><div class="c" style="left:228.68px;top:131.58px">-1</div><div class="c" style="left:341.32px;top:131.58px">3</div><div class="c" style="left:453.96px;top:131.58px">7</div><div class="c" style="left:3.40px;top:163.75px">-4</div><div class="c" style="left:116.04px;top:163.75px">-3</div><div class="c" style="left:228.68px;top:163.75px">-3</div><div class="c" style="left:341.32px;top:163.75px">1</div><div class="c" style="left:453.96px;top:163.75px">6</div><div class="c" style="left:3.40px;top:195.92px">-8</div><div class="c" style="left:116.04px;top:195.92px">-7</div><div class="c" style="left:228.68px;top:195.92px">-4</div><div class="c" style="left:341.32px;top:195.92px">-1</div><div class="c" style="left:453.96px;top:195.92px">3</div><div class="c" style="left:3.40px;top:228.09px">-12</div><div class="c" style="left:116.04px;top:228.09px">-10</div><div class="c" style="left:228.68px;top:228.09px">-8</div><div class="c" style="left:341.32px;top:228.09px">-1</div><div class="c" style="left:453.96px;top:228.09px">3</div><div class="c" style="left:3.40px;top:260.26px">-7</div><div class="c" style="left:116.04px;top:260.26px">-6</div><div class="c" style="left:228.68px;top:260.26px">-5</div><div class="c" style="left:341.32px;top:260.26px">0</div><div class="c" style="left:453.96px;top:260.26px">4</div><div class="c" style="left:3.40px;top:292.43px">-8</div><div class="c" style="left:116.04px;top:292.43px">-4</div><div class="c" style="left:228.68px;top:292.43px">-2</div><div class="c" style="left:341.32px;top:292.43px">0</div><div class="c" style="left:453.96px;top:292.43px">4</div><div class="c" style="left:3.40px;top:324.60px">-7</div><div class="c" style="left:116.04px;top:324.60px">-6</div><div class="c" style="left:228.68px;top:324.60px">-4</div><div class="c" style="left:341.32px;top:324.60px">2</div><div class="c" style="left:453.96px;top:324.60px">4</div><div class="c" style="left:3.40px;top:356.77px">-7</div><div class="c" style="left:116.04px;top:356.77px">-5</div><div class="c" style="left:228.68px;top:356.77px">-4</div><div class="c" style="left:341.32px;top:356.77px">0</div><div class="c" style="left:453.96px;top:356.77px">5</div><div class="c" style="left:3.40px;top:388.94px">-10</div><div class="c" style="left:116.04px;top:388.94px">-8</div><div class="c" style="left:228.68px;top:388.94px">-6</div><div class="c" style="left:341.32px;top:388.94px">-1</div><div class="c" style="left:453.96px;top:388.94px">2</div></div>
<svg class="t" role="img" aria-label="气温：℃" style="left:108.30px;top:218.20px" width="42.9" height="18.0" viewBox="0 0 42.9 18.0" ><title>气温：℃</title><text x="3" y="12.2" font-size="9.2" fill="#222">气温：℃</text></svg>
<div id="lg"><svg width="23" height="332" viewBox="0 0 23 332" style="position:absolute;left:0;top:0"><rect x="0" y="0.30" width="23" height="8.5" fill="#FF5A0A"/><rect x="0" y="10.68" width="23" height="8.5" fill="#FF780A"/><rect x="0" y="21.06" width="23" height="8.5" fill="#FF8C0A"/><rect x="0" y="31.44" width="23" height="8.5" fill="#FFA00A"/><rect x="0" y="41.82" width="23" height="8.5" fill="#FFB400"/><rect x="0" y="52.20" width="23" height="8.5" fill="#FFDC64"/><rect x="0" y="62.58" width="23" height="8.5" fill="#F5FF96"/><rect x="0" y="72.96" width="23" height="8.5" fill="#D2FF96"/><rect x="0" y="83.34" width="23" height="8.5" fill="#B4FFA0"/><rect x="0" y="93.72" width="23" height="8.5" fill="#A5FF82"/><rect x="0" y="104.10" width="23" height="8.5" fill="#9BFF6E"/><rect x="0" y="114.48" width="23" height="8.5" fill="#8CFF50"/><rect x="0" y="124.86" width="23" height="8.5" fill="#55FF0A"/><rect x="0" y="135.24" width="23" height="8.5" fill="#23D205"/><rect x="0" y="145.62" width="23" height="8.5" fill="#00D287"/><rect x="0" y="156.00" width="23" height="8.5" fill="#00EBA5"/><rect x="0" y="166.38" width="23" height="8.5" fill="#00EBCD"/><rect x="0" y="176.76" width="23" height="8.5" fill="#7DFAFF"/><rect x="0" y="187.14" width="23" height="8.5" fill="#7DD2FF"/><rect x="0" y="197.52" width="23" height="8.5" fill="#50BEFF"/><rect x="0" y="207.90" width="23" height="8.5" fill="#00AAFF"/><rect x="0" y="218.28" width="23" height="8.5" fill="#008CFF"/><rect x="0" y="228.66" width="23" height="8.5" fill="#0078FF"/><rect x="0" y="239.04" width="23" height="8.5" fill="#0064FF"/><rect x="0" y="249.42" width="23" height="8.5" fill="#0050FF"/><rect x="0" y="259.80" width="23" height="8.5" fill="#003CFF"/><rect x="0" y="270.18" width="23" height="8.5" fill="#0028FF"/><rect x="0" y="280.56" width="23" height="8.5" fill="#0508FF"/><rect x="0" y="290.94" width="23" height="8.5" fill="#1E00FF"/><rect x="0" y="301.32" width="23" height="8.5" fill="#4600FF"/><rect x="0" y="311.70" width="23" height="8.5" fill="#5000FF"/><rect x="0" y="322.08" width="23" height="8.5" fill="#6400FF"/></svg><b style="top:8.70px">16</b><b style="top:19.05px">15</b><b style="top:29.40px">14</b><b style="top:39.75px">13</b><b style="top:50.10px">12</b><b style="top:60.45px">11</b><b style="top:70.80px">10</b><b style="top:81.15px">9</b><b style="top:91.50px">8</b><b style="top:101.85px">7</b><b style="top:112.20px">6</b><b style="top:122.55px">5</b><b style="top:132.90px">4</b><b style="top:143.25px">3</b><b style="top:153.60px">2</b><b style="top:163.95px">1</b><b style="top:174.30px">0</b><b style="top:184.65px">-1</b><b style="top:195.00px">-2</b><b style="top:205.35px">-3</b><b style="top:215.70px">-4</b><b style="top:226.05px">-5</b><b style="top:236.40px">-6</b><b style="top:246.75px">-7</b><b style="top:257.10px">-8</b><b style="top:267.45px">-9</b><b style="top:277.80px">-10</b><b style="top:288.15px">-11</b><b style="top:298.50px">-12</b><b style="top:308.85px">-13</b><b style="top:319.20px">-14</b></div>
<svg class="t" role="img" aria-label="注：本图为各城市单个站点预报,根据江苏省气象台1月21日16时预报制作。" style="left:280.30px;top:579.88px" width="521.7" height="32.0" viewBox="0 0 521.7 32.0" ><title>注：本图为各城市单个站点预报,根据江苏省气象台1月21日16时预报制作。</title><text x="6" y="21.42" font-size="15.42" fill="#333" textLength="509.7" lengthAdjust="spacing">注：本图为各城市单个站点预报,根据江苏省气象台1月21日16时预报制作。</text></svg>
</body></html>
